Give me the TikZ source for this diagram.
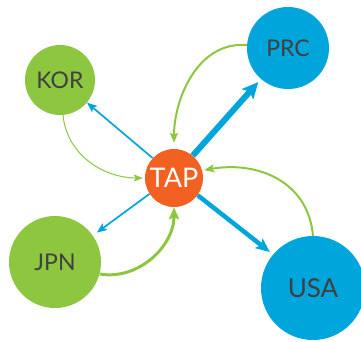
\documentclass[tikz,border=0pt]{standalone}
\usepackage{fontspec}
\setmainfont{Lato}
\usetikzlibrary{arrows.meta}
\definecolor{cgreen}{HTML}{8DC63F}
\definecolor{cblue}{HTML}{00A5DB}
\definecolor{corange}{HTML}{F26122}
\definecolor{ctext}{HTML}{404040}
\begin{document}
\begin{tikzpicture}[x=1pt,y=1pt,
  country/.style={circle, inner sep=0pt, text=ctext, font=\fontsize{23}{23}\selectfont},
  gnode/.style={country, fill=cgreen},
  bnode/.style={country, fill=cblue},
  tapnode/.style={circle, inner sep=0pt, fill=corange, text=white, font=\fontsize{27}{27}\selectfont},
  bline/.style={draw=cblue},
  gline/.style={draw=cgreen}]
\path[use as bounding box] (0,0) rectangle (361,-341);
\clip (0,0) rectangle (361,-341);
\node[tapnode, minimum size=58pt] (tap) at (174,-178) {TAP};
\node[gnode, minimum size=70pt] (kor) at (60,-80) {KOR};
\node[bnode, minimum size=82pt] (prc) at (288,-48) {PRC};
\node[gnode, minimum size=92pt] (jpn) at (55,-262) {JPN};
\node[bnode, minimum size=104pt, font=\fontsize{26}{26}\selectfont] (usa) at (313,-288) {USA};
% blue arrows
\draw[bline, line width=1.7pt, -{Stealth[length=10pt,width=8pt,inset=2pt]}] (tap.137) -- (kor.-40);
\draw[bline, line width=1.7pt, -{Stealth[length=10pt,width=8pt,inset=2pt]}, shorten >=5pt] (tap.213) -- (jpn.35);
\draw[bline, line width=6pt, -{Stealth[length=16pt,width=15pt,inset=3pt]}, shorten >=4pt] (tap.50) -- (prc.229);
\draw[bline, line width=4.5pt, -{Stealth[length=14pt,width=12pt,inset=3pt]}, shorten >=4pt] (tap.-36) -- (usa.140);
% green arrows
\draw[gline, line width=1pt, -{Stealth[length=9pt,width=7pt,inset=2pt]}, shorten >=2pt] (kor.-85) to[out=-85, in=180, looseness=1] (tap.180);
\draw[gline, line width=2pt, -{Stealth[length=10pt,width=8pt,inset=2pt]}, shorten >=6pt] (prc.176) to[out=175, in=90, looseness=1] (tap.90);
\draw[gline, line width=2pt, -{Stealth[length=10pt,width=8pt,inset=2pt]}, shorten >=2pt] (usa.90) to[out=95, in=10, looseness=1.1] (tap.15);
\draw[gline, line width=3pt, -{Stealth[length=12pt,width=10pt,inset=2pt]}] (jpn.-15) to[out=-10, in=-90, looseness=1] (tap.-90);
\end{tikzpicture}
\end{document}
